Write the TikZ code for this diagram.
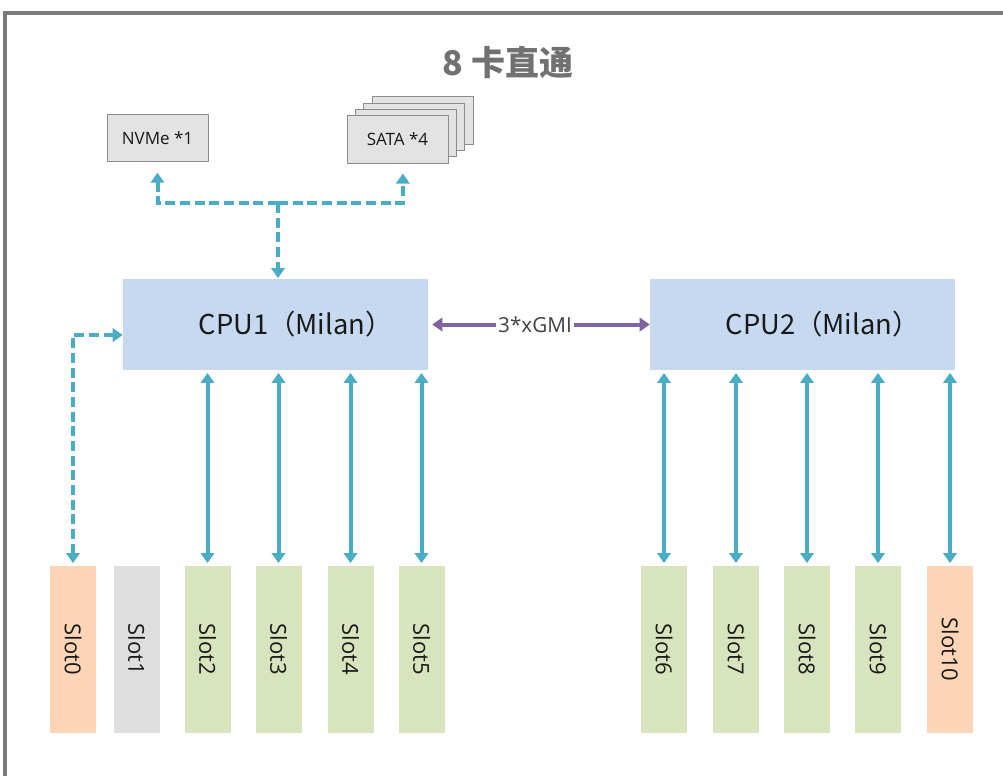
\documentclass[tikz,border=0pt]{standalone}
\usepackage{fontspec}
\setmainfont{Open Sans}
\newfontfamily\cjk{Noto Sans CJK SC}
\usetikzlibrary{arrows.meta,calc}
\definecolor{cy}{HTML}{4BACC6}
\definecolor{pu}{HTML}{8064A2}
\definecolor{cpufill}{HTML}{C6D9F0}
\definecolor{slotgreen}{HTML}{D7E4BD}
\definecolor{slotorange}{HTML}{FBD5B5}
\definecolor{slotgray}{HTML}{DEDEDE}
\definecolor{boxfill}{HTML}{E3E3E3}
\definecolor{boxline}{HTML}{8C8C8C}
\definecolor{titlegray}{HTML}{717171}
\definecolor{framegray}{HTML}{7A7A7A}
\begin{document}
\begin{tikzpicture}[x=0.75pt,y=-0.75pt,
  slotbox/.style={minimum width=34.5pt, minimum height=125.25pt, inner sep=0pt, text=black!90, font=\fontsize{16.5pt}{18pt}\selectfont},
  cpubox/.style={fill=cpufill, minimum width=228.75pt, minimum height=68.25pt, inner sep=0pt, text=black!90, font=\cjk\fontsize{20.5pt}{23pt}\selectfont},
  devbox/.style={fill=boxfill, draw=boxline, line width=0.6pt, minimum width=75.75pt, minimum height=35.5pt, inner sep=0pt, text=black!90, font=\fontsize{12.75pt}{14pt}\selectfont},
  link/.style={cy, line width=3pt, {Triangle[length=7.5pt,width=10pt]}-{Triangle[length=7.5pt,width=10pt]}, shorten <=2pt, shorten >=2pt},
  dlink/.style={cy, line width=3pt, dash pattern=on 7.5pt off 3.5pt, -{Triangle[length=7.5pt,width=10pt]}},
  gmi/.style={pu, line width=3pt, {Triangle[length=7.5pt,width=10pt]}-{Triangle[length=7.5pt,width=10pt]}}
]
\useasboundingbox (0,0) rectangle (1003,776);
\fill[white] (0,0) rectangle (1003,776);
\draw[framegray, line width=2.5pt] (5,776) -- (5,13) -- (1003,13);

% title
\node[font=\cjk\bfseries\fontsize{25.5pt}{28pt}\selectfont, text=titlegray] (title) at (508,62) {8 卡直通};

% storage
\node[devbox] (nvme) at (157.5,138) {NVMe *1};
\node[devbox] (sata3) at (422.5,120.5) {};
\node[devbox] (sata2) at (414.2,126.8) {};
\node[devbox] (sata1) at (405.8,133.2) {};
\node[devbox] (sata) at (397.5,139.5) {SATA *4};

% CPUs
\node[cpubox] (cpu1) at (275.5,324.5) {\hspace*{30pt}CPU1（Milan）};
\node[cpubox] (cpu2) at (802.5,324.5) {\hspace*{30pt}CPU2（Milan）};

% slots
\foreach \n/\x/\c in {0/73/slotorange,1/136.5/slotgray,2/207.5/slotgreen,3/278.5/slotgreen,4/350.5/slotgreen,5/421.5/slotgreen,6/664/slotgreen,7/736/slotgreen,8/807/slotgreen,9/878/slotgreen,10/950/slotorange}
  \node[slotbox, fill=\c] (slot\n) at (\x,649.5) {\rotatebox{-90}{Slot\n}};

% storage links
\coordinate (j) at (278,203);
\draw[dlink, shorten >=8pt] (j) -| (nvme.south);
\draw[dlink, shorten >=7.5pt] (j) -| ([xshift=4pt]sata.south);
\draw[dlink, shorten >=0.5pt] (j) -- (j |- cpu1.north);

% slot0 dashed link
\coordinate (s0c) at ($(cpu1.west)+(0,10.5)$);
\draw[cy, line width=3pt, dash pattern=on 7.5pt off 3.5pt, {Triangle[length=7.5pt,width=10pt]}-{Triangle[length=7.5pt,width=10pt]}, shorten <=2pt] (slot0.north) |- (s0c);

% CPU-slot links
\foreach \s in {2,3,4,5}
  \draw[link] (slot\s.north) -- (slot\s.north |- cpu1.south);
\foreach \s in {6,7,8,9,10}
  \draw[link] (slot\s.north) -- (slot\s.north |- cpu2.south);

% xGMI
\draw[gmi, shorten <=3pt] (cpu1.east) -- (cpu2.west);
\node[fill=white, inner sep=2pt, font=\fontsize{15.5pt}{17pt}\selectfont, text=black!75] (xgmi) at (535,325) {3*xGMI};
\end{tikzpicture}
\end{document}
